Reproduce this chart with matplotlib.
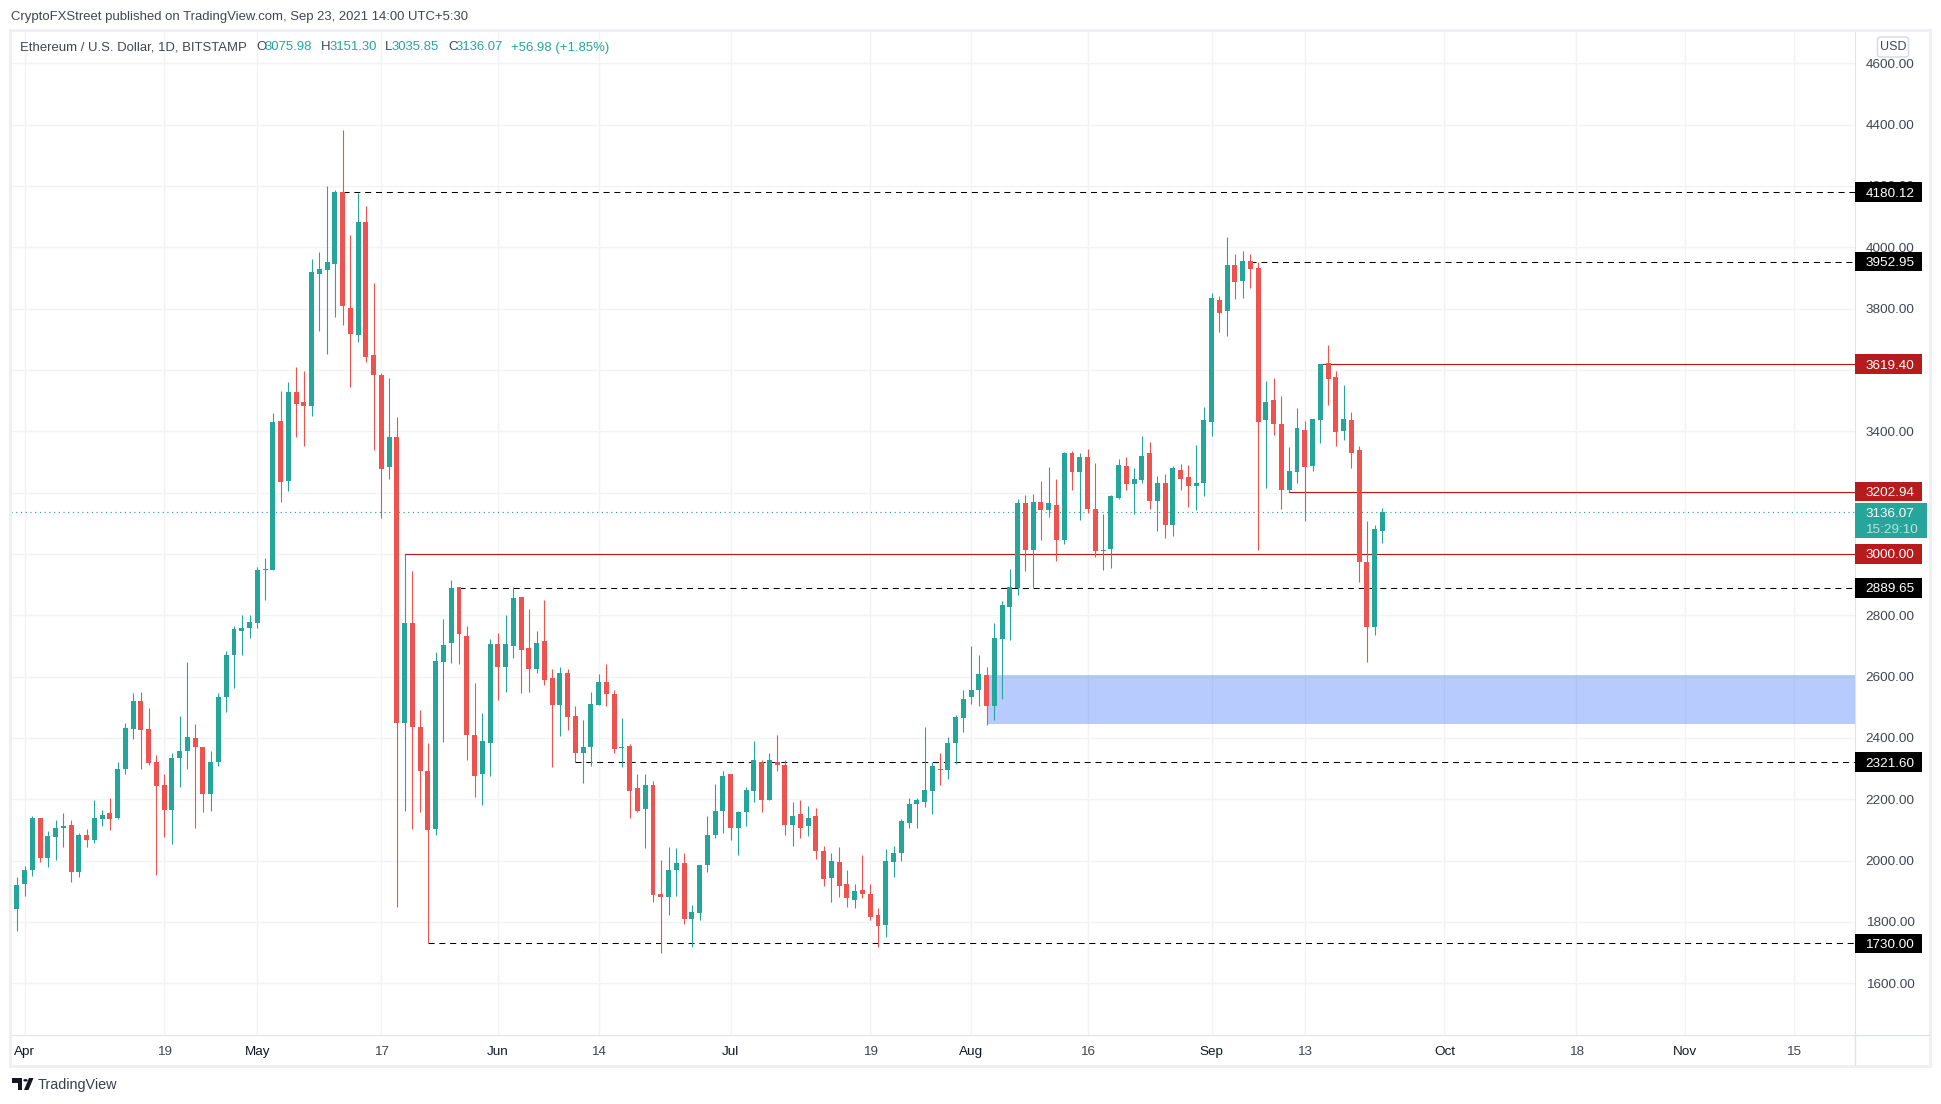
#!/usr/bin/env python3
# ETH/USD daily candles with support and resistance levels
import pandas as pd
import matplotlib
matplotlib.use('Agg')
import matplotlib.pyplot as plt
import matplotlib.dates as mdates
from matplotlib.patches import Rectangle, FancyBboxPatch, Polygon, Circle

plt.rcParams['font.family'] = ['Liberation Sans', 'DejaVu Sans']

W, H = 1941, 1104
FONT = 9.7
HEAD_FONT = 9.45
GREEN = '#26a69a'
RED = '#ef5350'
LINE_RED = '#b71c1c'
BORDER = '#eeeef3'
GRID = '#f2f3f5'
AXIS = '#e0e3eb'
TEXT = '#434651'

start_date = '2021-03-31'

highs = [
    1948, 1984, 2147, 2140, 2096, 2133, 2154, 2131, 2089, 2102,
    2199, 2166, 2203, 2320, 2450, 2548, 2551, 2499, 2343, 2284,
    2352, 2473, 2649, 2444, 2372, 2359, 2548, 2683, 2766, 2802,
    2802, 2958, 2987, 3461, 3532, 3561, 3610, 3596, 3963, 3985,
    4201, 4188, 4383, 4041, 4178, 4135, 3882, 3590, 3573, 3445,
    3000, 2946, 2492, 2382, 2680, 2789, 2916, 2893, 2766, 2578,
    2480, 2724, 2743, 2802, 2893, 2861, 2822, 2750, 2850, 2626,
    2633, 2626, 2503, 2457, 2551, 2610, 2642, 2558, 2464, 2379,
    2281, 2281, 2261, 2001, 2046, 2040, 2024, 1854, 1987, 2147,
    2249, 2291, 2281, 2163, 2240, 2391, 2327, 2352, 2411, 2327,
    2190, 2197, 2177, 2170, 2049, 2024, 2044, 1968, 1923, 2018,
    1923, 1845, 2037, 2049, 2135, 2203, 2203, 2437, 2323, 2350,
    2404, 2476, 2558, 2701, 2669, 2633, 2776, 2848, 2952, 3178,
    3191, 3194, 3237, 3282, 3243, 3331, 3335, 3328, 3341, 3296,
    3129, 3191, 3309, 3315, 3279, 3384, 3364, 3253, 3260, 3286,
    3292, 3289, 3354, 3479, 3852, 3842, 4032, 3979, 3989, 3979,
    3953, 3564, 3574, 3515, 3348, 3475, 3433, 3439, 3619, 3682,
    3596, 3551, 3462, 3351, 3106, 3096, 3151.30,
]
lows = [
    1771, 1884, 1949, 1994, 1978, 2001, 2044, 1930, 1948, 2046,
    2056, 2112, 2099, 2135, 2281, 2398, 2300, 2312, 1952, 2076,
    2053, 2239, 2298, 2105, 2158, 2163, 2308, 2484, 2563, 2670,
    2725, 2757, 2851, 2948, 3168, 3206, 3380, 3353, 3451, 3728,
    3653, 3773, 3748, 3543, 3692, 3627, 3340, 3116, 3243, 1848,
    2161, 2103, 2159, 1733, 2084, 2387, 2646, 2640, 2327, 2206,
    2183, 2275, 2525, 2551, 2662, 2548, 2550, 2613, 2574, 2304,
    2408, 2427, 2323, 2252, 2308, 2509, 2503, 2350, 2304, 2138,
    2160, 2040, 1865, 1700, 1823, 1884, 1794, 1719, 1806, 1962,
    2074, 2089, 2066, 2017, 2112, 2190, 2158, 2197, 2293, 2083,
    2049, 2073, 2079, 2005, 1916, 1865, 1880, 1848, 1845, 1877,
    1806, 1719, 1750, 1948, 1998, 2105, 2108, 2174, 2151, 2245,
    2265, 2316, 2421, 2512, 2505, 2441, 2457, 2528, 2720, 2867,
    2945, 2890, 3047, 3122, 2978, 3034, 3207, 3112, 3132, 2991,
    2949, 2955, 3178, 3207, 3129, 3233, 3145, 3076, 3053, 3060,
    3210, 3152, 3142, 3188, 3384, 3724, 3711, 3832, 3835, 3868,
    3014, 3214, 3387, 3145, 3201, 3233, 3109, 3269, 3361, 3485,
    3351, 3371, 3279, 2909, 2648, 2736, 3035.85,
]
opens = [
    1842, 1924, 1969, 2138, 2007, 2077, 2108, 2115, 1963, 2085,
    2067, 2136, 2154, 2138, 2300, 2430, 2519, 2428, 2320, 2245,
    2164, 2334, 2359, 2399, 2372, 2217, 2323, 2535, 2670, 2750,
    2757, 2774, 2949, 2948, 3434, 3239, 3529, 3496, 3483, 3914,
    3927, 3947, 4181, 3803, 3715, 4081, 3650, 3585, 3282, 3380,
    2449, 2776, 2437, 2293, 2102, 2649, 2711, 2893, 2734, 2411,
    2281, 2382, 2708, 2633, 2701, 2861, 2692, 2626, 2715, 2594,
    2506, 2613, 2473, 2352, 2372, 2509, 2583, 2544, 2366, 2375,
    2236, 2167, 2245, 1891, 1880, 1968, 1991, 1809, 1829, 1985,
    2083, 2163, 2281, 2105, 2158, 2226, 2323, 2197, 2323, 2313,
    2115, 2151, 2112, 2144, 2033, 1942, 1994, 1923, 1873, 1903,
    1891, 1822, 1789, 1994, 2026, 2124, 2186, 2190, 2226, 2300,
    2297, 2382, 2464, 2532, 2555, 2606, 2505, 2724, 2828, 2890,
    3165, 3014, 3168, 3142, 3161, 3047, 3328, 3266, 3315, 3148,
    3011, 3017, 3184, 3286, 3227, 3240, 3328, 3174, 3230, 3093,
    3273, 3250, 3223, 3230, 3430, 3829, 3793, 3943, 3891, 3956,
    3933, 3436, 3502, 3423, 3207, 3266, 3403, 3286, 3436, 3623,
    3577, 3400, 3436, 3338, 2975, 2762, 3075.98,
]
closes = [
    1921, 1970, 2138, 2007, 2079, 2108, 2114, 1963, 2083, 2067,
    2138, 2150, 2136, 2300, 2434, 2519, 2425, 2318, 2243, 2164,
    2336, 2359, 2402, 2372, 2217, 2323, 2535, 2672, 2754, 2759,
    2779, 2948, 2952, 3431, 3235, 3529, 3490, 3483, 3918, 3930,
    3953, 4181, 3809, 3718, 4081, 3643, 3585, 3278, 3382, 2449,
    2776, 2435, 2293, 2099, 2652, 2704, 2890, 2740, 2411, 2277,
    2391, 2708, 2633, 2708, 2857, 2688, 2626, 2711, 2590, 2509,
    2613, 2469, 2352, 2369, 2512, 2583, 2542, 2365, 2372, 2226,
    2163, 2245, 1888, 1880, 1971, 1991, 1809, 1834, 1985, 2085,
    2163, 2277, 2108, 2158, 2229, 2327, 2197, 2327, 2311, 2115,
    2147, 2108, 2140, 2033, 1939, 1998, 1916, 1877, 1900, 1890,
    1815, 1786, 1998, 2026, 2128, 2186, 2197, 2229, 2307, 2297,
    2385, 2467, 2528, 2558, 2610, 2505, 2727, 2832, 2893, 3165,
    3014, 3168, 3142, 3165, 3044, 3328, 3266, 3315, 3145, 3011,
    3014, 3188, 3289, 3227, 3243, 3318, 3174, 3233, 3093, 3279,
    3243, 3223, 3230, 3436, 3835, 3786, 3943, 3888, 3956, 3930,
    3430, 3495, 3423, 3207, 3269, 3410, 3282, 3439, 3619, 3570,
    3397, 3439, 3328, 2975, 2762, 3080, 3136.07,
]

# Levels drawn by hand on the chart
level_values = [4180.12, 3952.95, 3619.40, 3202.94, 3000.00, 2889.65, 2321.60, 1730.00]
level_starts = ['2021-05-12', '2021-09-06', '2021-09-15', '2021-09-11',
                '2021-05-20', '2021-05-27', '2021-06-11', '2021-05-23']
level_kinds = ['support', 'support', 'resist', 'resist',
               'resist', 'support', 'support', 'support']

zone_low, zone_high = 2445, 2606
zone_start = '2021-08-03'

last_price = 3136.07
countdown = '15:29:10'

price_ticks = [4600, 4400, 4200, 4000, 3800, 3600, 3400, 3200, 3000,
               2800, 2600, 2400, 2200, 2000, 1800, 1600]
date_ticks = ['2021-04-01', '2021-04-19', '2021-05-01', '2021-05-17',
              '2021-06-01', '2021-06-14', '2021-07-01', '2021-07-19',
              '2021-08-01', '2021-08-16', '2021-09-01', '2021-09-13',
              '2021-10-01', '2021-10-18', '2021-11-01', '2021-11-15']
date_labels = ['Apr', '19', 'May', '17', 'Jun', '14', 'Jul', '19',
               'Aug', '16', 'Sep', '13', 'Oct', '18', 'Nov', '15']


def fx(x):
    return x / W

def fy(y):
    return 1. - y / H

def num(day):
    return mdates.date2num(pd.Timestamp(day))

def top_text(fig, x, y, s, color=TEXT, size=HEAD_FONT):
    fig.text(fx(x), fy(y), s, color=color, fontsize=size, ha='left', va='center')

def draw_frame(fig):
    fig.add_artist(Rectangle((fx(10), fy(1065.5)), fx(1920), 1036. / H,
                             transform=fig.transFigure, fill=False,
                             edgecolor=BORDER, linewidth=2))
    fig.add_artist(plt.Line2D([fx(1854.5), fx(1854.5)], [fy(1034.5), fy(1065)],
                              color=AXIS, linewidth=1))
    fig.add_artist(plt.Line2D([fx(1854.5), fx(1929)], [fy(1034.5), fy(1034.5)],
                              color=AXIS, linewidth=1))

def draw_logo(fig):
    tf = fig.transFigure
    ink = '#131722'
    fig.add_artist(Polygon([(fx(12), fy(1078)), (fx(22), fy(1078)), (fx(22), fy(1090)),
                            (fx(17.5), fy(1090)), (fx(17.5), fy(1082.5)), (fx(12), fy(1082.5))],
                           transform=tf, color=ink, linewidth=0))
    fig.add_artist(Circle((fx(25.5), fy(1080.3)), 2.2 / W, transform=tf, color=ink, linewidth=0))
    fig.add_artist(Polygon([(fx(29), fy(1078)), (fx(33.5), fy(1078)), (fx(28.5), fy(1090)),
                            (fx(24), fy(1090))],
                           transform=tf, color=ink, linewidth=0))
    top_text(fig, 38, 1084.5, 'TradingView', color='#3b3f4a', size=10.4)

def draw_header(fig):
    top_text(fig, 11, 17, 'CryptoFXStreet published on TradingView.com, Sep 23, 2021 14:00 UTC+5:30')
    top_text(fig, 20, 47.5, 'Ethereum / U.S. Dollar, 1D, BITSTAMP')
    for x, s in [(256, 'O'), (320.5, 'H'), (385, 'L'), (448, 'C')]:
        top_text(fig, x, 47.5, s)
    for x, s in [(265, '3075.98'), (330, '3151.30'), (392, '3035.85'), (456, '3136.07'),
                 (511, '+56.98 (+1.85%)')]:
        top_text(fig, x, 47.5, s, color=GREEN)

def draw_candles(ax):
    days = mdates.date2num(pd.date_range(start_date, periods=len(closes)))
    colors = [GREEN if c >= o else RED for o, c in zip(opens, closes)]
    ax.vlines(days, lows, highs, colors=colors, linewidth=0.8, zorder=4)
    bottoms = [min(o, c) for o, c in zip(opens, closes)]
    heights = [max(abs(c - o), 3) for o, c in zip(opens, closes)]
    ax.bar(days, heights, bottom=bottoms, width=0.64, color=colors, linewidth=0, zorder=5)

def draw_levels(ax):
    right = ax.get_xlim()[1]
    for value, start, kind in zip(level_values, level_starts, level_kinds):
        if kind == 'resist':
            ax.plot([num(start), right], [value, value], color=LINE_RED, linewidth=0.85, zorder=3)
        else:
            ax.plot([num(start), right], [value, value], color='black', linewidth=0.75,
                    linestyle=(0, (5.8, 4.6)), zorder=3)
    ax.add_patch(Rectangle((num(zone_start), zone_low), right - num(zone_start),
                           zone_high - zone_low, facecolor='#2962ff', alpha=0.33,
                           linewidth=0, zorder=2))
    ax.axhline(last_price, color=GREEN, linewidth=0.85, linestyle=(0, (1, 3)), zorder=3)

def draw_tags(ax):
    tf = ax.get_yaxis_transform()
    x0 = 1.0
    label_x = 1. + 11. / 1843
    width = 67. / 1843
    tag_h = 19.5 / 0.3066
    for value, kind in zip(level_values, level_kinds):
        color = LINE_RED if kind == 'resist' else 'black'
        ax.add_patch(Rectangle((x0, value - tag_h / 2), width, tag_h, transform=tf,
                               facecolor=color, linewidth=0, clip_on=False, zorder=6))
        ax.text(label_x, value, '%.2f' % value, transform=tf, color='white',
                fontsize=FONT, ha='left', va='center_baseline', zorder=7)
    # Last price tag, two rows, the price sits in the upper one
    ax.add_patch(Rectangle((x0, last_price - 26 / 0.3066), 72. / 1843, 35 / 0.3066,
                           transform=tf, facecolor=GREEN, linewidth=0, clip_on=False, zorder=6))
    ax.text(label_x, last_price, '%.2f' % last_price, transform=tf, color='white',
            fontsize=FONT, ha='left', va='center_baseline', zorder=7)
    ax.text(label_x, last_price - 54, countdown, transform=tf, color='#b5e3de',
            fontsize=FONT, ha='left', va='center_baseline', zorder=7)

def plot_chart():
    fig = plt.figure(figsize=(W / 100., H / 100.), dpi=100, facecolor='white')
    ax = fig.add_axes([fx(11), fy(1034.5), fx(1843.5), 1004.5 / H])
    origin = num('2021-04-01')
    ax.set_xlim(origin - 1.74, origin + 235.85)
    ax.set_ylim(1433, 4708.6)

    ax.set_xticks([num(d) for d in date_ticks])
    ax.set_xticklabels(date_labels)
    ax.set_yticks(price_ticks)
    ax.set_yticklabels(['%.2f' % p for p in price_ticks])
    ax.yaxis.tick_right()
    ax.tick_params(axis='x', length=0, pad=8, labelsize=FONT, labelcolor=TEXT)
    ax.tick_params(axis='y', length=0, pad=8, labelsize=FONT, labelcolor=TEXT)
    for label in ax.get_xticklabels():
        if not label.get_text().isdigit():
            label.set_color('#131722')
    ax.grid(True, color=GRID, linewidth=1)
    ax.set_axisbelow(True)
    for side in ('top', 'left'):
        ax.spines[side].set_visible(False)
    for side in ('right', 'bottom'):
        ax.spines[side].set_color(AXIS)

    draw_levels(ax)
    draw_candles(ax)
    draw_tags(ax)

    draw_frame(fig)
    draw_header(fig)
    draw_logo(fig)

    # Currency button above the price scale
    fig.add_artist(FancyBboxPatch((fx(1877.5), fy(57)), 31. / W, 20. / H,
                                  boxstyle='round,pad=0,rounding_size=0.002',
                                  transform=fig.transFigure, facecolor='white',
                                  edgecolor='#d6d9e2', linewidth=1, zorder=8))
    fig.text(fx(1893), fy(47), 'USD', color=TEXT, fontsize=FONT - 0.7,
             ha='center', va='center', zorder=9)
    return fig

def main():
    fig = plot_chart()
    fig.savefig('out.png', dpi=100)

if __name__ == '__main__':
    main()
